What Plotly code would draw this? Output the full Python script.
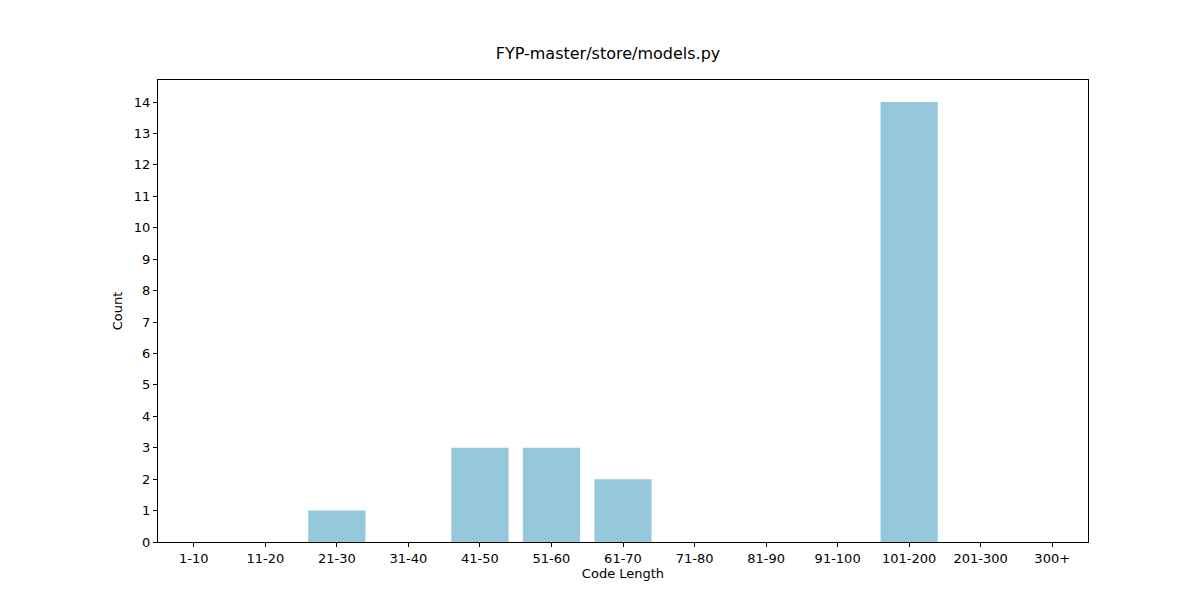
import plotly.graph_objects as go

categories = ["1-10", "11-20", "21-30", "31-40", "41-50", "51-60", "61-70",
              "71-80", "81-90", "91-100", "101-200", "201-300", "300+"]
counts = [0, 0, 1, 0, 3, 3, 2, 0, 0, 0, 14, 0, 0]

fig = go.Figure(go.Bar(x=list(range(len(categories))), y=counts, width=0.8,
                       marker=dict(color="#96c8dc", line=dict(width=0))))

axis_common = dict(showgrid=False, zeroline=False, showline=True, linecolor="black",
                   linewidth=1, mirror=True, ticks="outside", ticklen=4,
                   tickcolor="black", tickfont=dict(size=13, color="black"))

fig.update_layout(
    width=1200, height=600,
    plot_bgcolor="white", paper_bgcolor="white",
    font=dict(family="DejaVu Sans", color="black"),
    title=dict(text="FYP-master/store/models.py", x=0.5, xanchor="center",
               y=0.915, yanchor="bottom", font=dict(size=16)),
    margin=dict(l=150, r=120, t=72, b=66),
    showlegend=False,
    xaxis=dict(axis_common, range=[-0.5, 12.5], tickmode="array",
               tickvals=list(range(len(categories))), ticktext=categories,
               title=dict(text="Code Length", font=dict(size=13), standoff=4)),
    yaxis=dict(axis_common, range=[0, 14.7], dtick=1,
               title=dict(text="Count", font=dict(size=13), standoff=8)),
)

fig.write_html("out.html")
